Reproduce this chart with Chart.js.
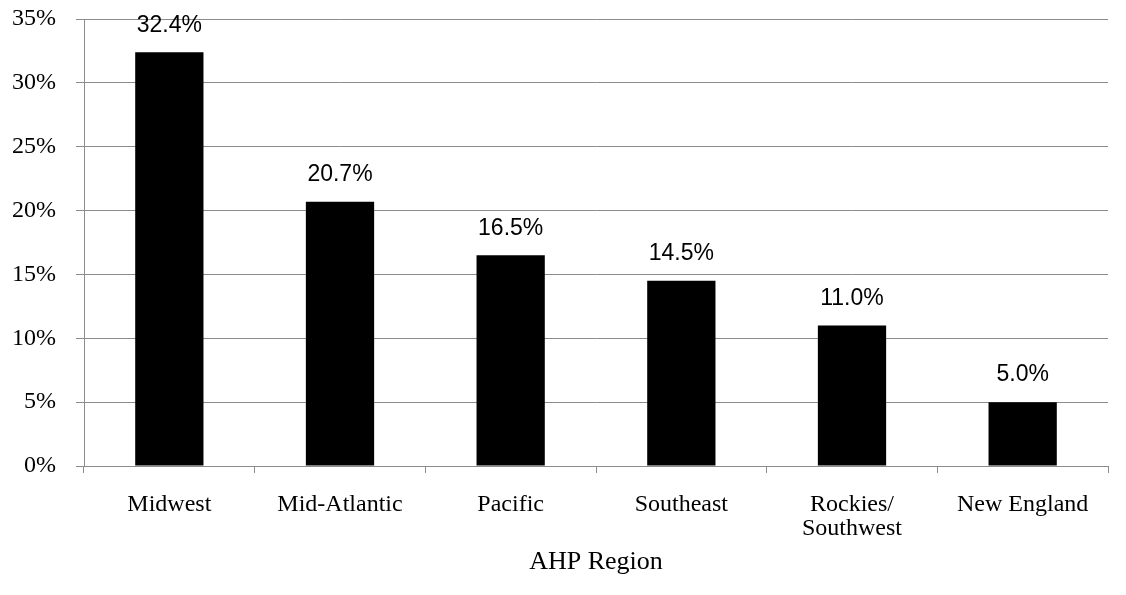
<!DOCTYPE html>
<html>
<head>
<meta charset="utf-8">
<script src="https://cdn.jsdelivr.net/npm/chart.js@4/dist/chart.umd.min.js"></script>
<style>
  html, body { margin: 0; padding: 0; background: #fff; }
  #wrap { width: 1126px; height: 595px; position: relative; }
</style>
</head>
<body>
<div id="wrap"><canvas id="regionChart"></canvas></div>
<script>
const regions = ['Midwest', 'Mid-Atlantic', 'Pacific', 'Southeast', ['Rockies/', 'Southwest'], 'New England'];
const shares = [32.4, 20.7, 16.5, 14.5, 11.0, 5.0];
const axisMax = 35;
const axisStep = 5;

const gridGray = '#8c8c8c';
const serif = "'Liberation Serif', 'Times New Roman', serif";

// writes the percentage above each bar
const barValueLabels = {
    id: 'barValueLabels',
    afterDatasetsDraw(chart) {
        const ctx = chart.ctx;
        const meta = chart.getDatasetMeta(0);
        ctx.save();
        ctx.font = "23px 'Liberation Sans', Arial, sans-serif";
        ctx.fillStyle = '#000';
        ctx.textAlign = 'center';
        ctx.textBaseline = 'middle';
        meta.data.forEach((bar, i) => {
            ctx.fillText(shares[i].toFixed(1) + '%', bar.x, bar.y - 27);
        });
        ctx.restore();
    }
};

const ctx = document.getElementById('regionChart').getContext('2d');

new Chart(ctx, {
    type: 'bar',
    data: {
        labels: regions,
        datasets: [{
            data: shares,
            backgroundColor: '#000',
            borderWidth: 0,
            barPercentage: 0.4,
            categoryPercentage: 1.0
        }]
    },
    options: {
        responsive: true,
        maintainAspectRatio: false,
        animation: false,
        layout: { padding: { top: 19, right: 18, left: 0, bottom: 0 } },
        plugins: {
            legend: { display: false },
            tooltip: { enabled: false }
        },
        scales: {
            y: {
                min: 0,
                max: axisMax,
                afterFit: scale => {
                    scale.width = 84;
                    scale.paddingTop = 0;
                    scale.paddingBottom = 0;
                },
                ticks: {
                    stepSize: axisStep,
                    padding: 20,
                    color: '#000',
                    font: { family: serif, size: 24 },
                    callback: v => v + '%'
                },
                grid: { color: gridGray, lineWidth: 1, tickLength: 8 },
                border: { color: gridGray, width: 1 }
            },
            x: {
                afterFit: scale => {
                    scale.height = 129;
                    scale.paddingLeft = 0;
                    scale.paddingRight = 0;
                },
                ticks: {
                    padding: 20,
                    color: '#000',
                    font: { family: serif, size: 24, lineHeight: 1.0 },
                    maxRotation: 0
                },
                grid: { offset: true, drawOnChartArea: false, color: gridGray, tickLength: 7 },
                border: { color: gridGray, width: 1 },
                title: {
                    display: true,
                    text: 'AHP Region',
                    color: '#000',
                    font: { family: serif, size: 26 },
                    padding: { top: 12, bottom: 17 }
                }
            }
        }
    },
    plugins: [barValueLabels]
});
</script>
</body>
</html>
